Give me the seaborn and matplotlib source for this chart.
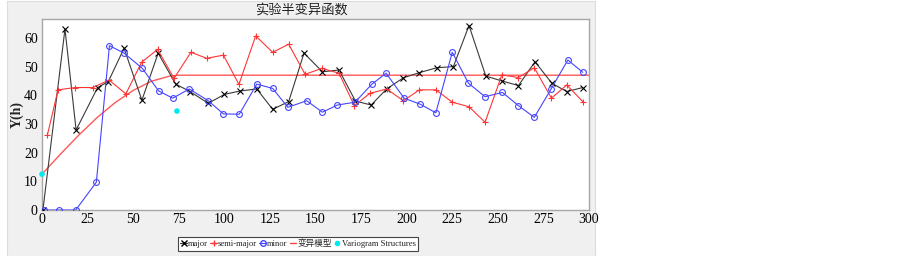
import matplotlib
matplotlib.use("Agg")
import matplotlib.pyplot as plt
import seaborn as sns
import pandas as pd
from matplotlib.lines import Line2D

# ---- data ----
major_lag = [0.5, 12.6, 18.7, 30.5, 36.4, 45.0, 54.8, 63.7, 73.3, 81.2, 91.2, 100.0, 108.6, 117.8,
             126.5, 135.3, 143.7, 153.8, 162.9, 171.9, 180.5, 189.0, 198.2, 207.0, 216.5, 225.6,
             234.2, 243.4, 252.2, 261.3, 270.4, 279.6, 287.8, 296.6]
major_val = [0, 63.1, 27.9, 42.7, 44.8, 56.4, 38.3, 54.7, 43.9, 41.3, 37.2, 40.3, 41.5, 42.2,
             35.1, 37.8, 54.7, 48.2, 48.8, 38.0, 36.6, 42.2, 46.1, 47.9, 49.6, 50.0,
             64.3, 46.7, 45.0, 43.4, 51.7, 44.2, 41.3, 42.7]

semi_lag = [2.9, 8.8, 18.1, 27.8, 36.8, 46.0, 54.6, 63.4, 72.4, 81.7, 90.3, 99.5, 108.0, 117.2,
            126.5, 135.3, 144.3, 153.4, 162.9, 171.3, 179.9, 189.0, 198.2, 207.0, 216.0, 225.0,
            234.2, 243.0, 252.2, 261.3, 270.0, 279.4, 287.8, 296.6]
semi_val = [26.0, 41.9, 42.7, 42.7, 45.3, 40.5, 51.5, 56.0, 45.9, 55.0, 52.9, 54.0, 43.8, 60.7,
            55.0, 57.8, 47.3, 49.4, 47.7, 36.4, 40.7, 42.2, 38.1, 41.9, 41.9, 37.6,
            36.0, 30.6, 47.1, 46.2, 49.6, 39.0, 43.6, 37.8]

minor_lag = [1.1, 9.5, 18.5, 29.8, 37.0, 45.0, 55.0, 64.0, 71.7, 80.8, 91.2, 99.5, 108.2, 117.8,
             126.5, 134.8, 145.2, 153.8, 162.0, 171.7, 180.8, 188.7, 198.6, 207.4, 216.0, 225.0,
             233.9, 243.0, 252.5, 261.3, 270.0, 279.2, 288.4, 296.6]
minor_val = [0, 0, 0, 9.7, 57.3, 54.7, 49.4, 41.5, 39.0, 42.2, 38.1, 33.5, 33.4, 43.9,
             42.4, 35.8, 38.1, 34.1, 36.6, 37.6, 43.8, 47.7, 39.0, 36.9, 33.9, 55.0,
             44.2, 39.5, 41.0, 36.4, 32.3, 42.2, 52.3, 48.0]

model_lag = [0, 10, 20, 30, 40, 50, 60, 70, 75, 300]
model_val = [12.5, 19.4, 26.0, 32.1, 37.4, 41.7, 44.9, 46.7, 47.0, 47.0]

struct_lag = [0, 74]
struct_val = [12.5, 34.5]

title = "实验半变异函数"
ylabel = "Y(h)"
xticks = [0, 25, 50, 75, 100, 125, 150, 175, 200, 225, 250, 275, 300]
yticks = [0, 10, 20, 30, 40, 50, 60]
labels = ["major", "semi-major", "minor", "变异模型", "Variogram Structures"]

# ---- figure ----
sns.set_theme(style="white")
plt.rcParams["font.family"] = ["Liberation Serif", "Noto Sans CJK SC", "DejaVu Sans"]

W, H = 903, 256
fig = plt.figure(figsize=(W / 100, H / 100), dpi=100, facecolor="white")

# grey panel as a background axes
bg = fig.add_axes([7 / W, 0, (595 - 7) / W, 0.995], zorder=-5)
bg.set_facecolor("#f0f0f0")
bg.set_xticks([])
bg.set_yticks([])
for s in bg.spines.values():
    s.set_color("#dcdcdc")
    s.set_linewidth(0.8)

ax = fig.add_axes([42 / W, (H - 210) / H, (589 - 42) / W, (210 - 19) / H], zorder=1)
ax.set_facecolor("white")

c_major = "#3a3a3a"
c_semi = "#ff3535"
c_minor = "#4545ff"
c_model = "#ff4545"
c_struct = "#00e8f0"

df_major = pd.DataFrame({"lag": major_lag, "val": major_val})
df_semi = pd.DataFrame({"lag": semi_lag, "val": semi_val})
df_minor = pd.DataFrame({"lag": minor_lag, "val": minor_val})
df_model = pd.DataFrame({"lag": model_lag, "val": model_val})
df_struct = pd.DataFrame({"lag": struct_lag, "val": struct_val})

sns.lineplot(data=df_model, x="lag", y="val", ax=ax, color=c_model, lw=1.0, alpha=0.9,
             estimator=None, sort=False, zorder=2)
sns.lineplot(data=df_major, x="lag", y="val", ax=ax, color=c_major, lw=0.8, marker="x",
             markersize=4, markeredgewidth=0.8, markeredgecolor="black", estimator=None,
             sort=False, zorder=3)
sns.lineplot(data=df_semi, x="lag", y="val", ax=ax, color=c_semi, lw=0.8, marker="+",
             markersize=5, markeredgewidth=0.8, markeredgecolor=c_semi, estimator=None,
             sort=False, zorder=3)
sns.lineplot(data=df_minor, x="lag", y="val", ax=ax, color=c_minor, lw=0.8, marker="o",
             markersize=4.2, markerfacecolor="none", markeredgewidth=0.8, markeredgecolor=c_minor,
             estimator=None, sort=False, zorder=3)
sns.scatterplot(data=df_struct, x="lag", y="val", ax=ax, color=c_struct, s=16,
                edgecolor="none", zorder=4, clip_on=False)

ax.set_xlim(0, 300)
ax.set_ylim(0, 66.6)
ax.set_xticks(xticks)
ax.set_yticks(yticks)
ax.tick_params(axis="both", labelsize=10, length=0, colors="black")
ax.tick_params(axis="x", pad=2)
ax.tick_params(axis="y", pad=3)
for lab in ax.get_xticklabels() + ax.get_yticklabels():
    lab.set_fontfamily(["Liberation Serif"])
ax.set_xlabel("")
ax.set_ylabel(ylabel, fontsize=10, fontweight="bold", family=["Liberation Serif"], labelpad=0)
for s in ax.spines.values():
    s.set_color("#a8a8a8")
    s.set_linewidth(1.0)

fig.text(301 / W, 1 - 10 / H, title, ha="center", va="center", fontsize=9.5,
         family=["Noto Sans CJK SC", "DejaVu Sans"], color="#222222", zorder=5)

handles = [
    Line2D([], [], color=c_major, lw=0.8, marker="x", markersize=4, markeredgecolor="black"),
    Line2D([], [], color=c_semi, lw=0.8, marker="+", markersize=5),
    Line2D([], [], color=c_minor, lw=0.8, marker="o", markersize=4, markerfacecolor="none"),
    Line2D([], [], color=c_model, lw=1.0),
    Line2D([], [], color=c_struct, lw=0, marker="o", markersize=4, markeredgecolor="none"),
]
leg = fig.legend(handles, labels, loc="center", bbox_to_anchor=(298 / W, 1 - 244 / H), ncol=5,
                 frameon=True, fancybox=False, edgecolor="#444444", facecolor="white",
                 framealpha=1, handlelength=0.8, handletextpad=0.1, columnspacing=0.25,
                 borderpad=0.3, borderaxespad=0,
                 prop={"family": ["Liberation Serif", "Noto Sans CJK SC"], "size": 6.2})
leg.get_frame().set_linewidth(0.8)
leg.set_zorder(6)

fig.savefig("out.png", dpi=100, facecolor="white")
